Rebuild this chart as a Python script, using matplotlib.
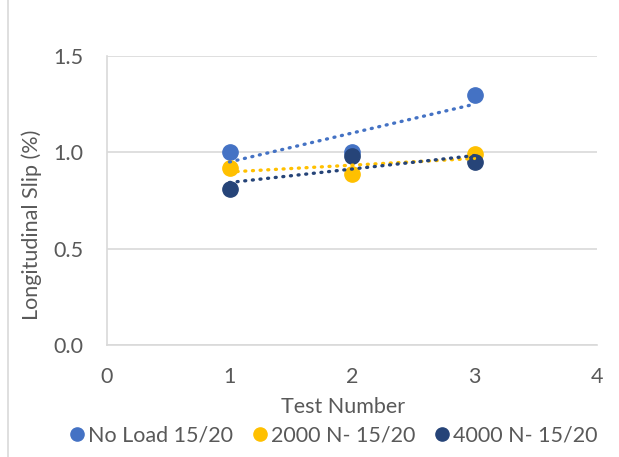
import numpy as np
import matplotlib
matplotlib.use('Agg')
import matplotlib.pyplot as plt
from matplotlib.lines import Line2D

plt.rcParams['font.family'] = ['Lato', 'DejaVu Sans']

TEXT_COLOR = '#595959'
GRID_COLOR = '#D9D9D9'
FONT_SIZE = 15.5

test_number = [1, 2, 3]
no_load = [1.00, 1.00, 1.30]
load_2000 = [0.92, 0.89, 0.99]
load_4000 = [0.81, 0.98, 0.95]

series_names = ['No Load 15/20', '2000 N- 15/20', '4000 N- 15/20']
series_colors = ['#4472C4', '#FFC000', '#264478']
x_ticks = [0, 1, 2, 3, 4]
y_ticks = [0.0, 0.5, 1.0, 1.5]

fig = plt.figure(figsize=(6.19, 4.57), dpi=100)
ax = fig.add_axes([107 / 619, 1 - 345 / 457, 490 / 619, 289 / 457])

for name, vals, color in zip(series_names, [no_load, load_2000, load_4000], series_colors):
    ax.plot(test_number, vals, 'o', color=color, markersize=11, zorder=3, label=name)
    # linear trendline
    k, b = np.polyfit(test_number, vals, 1)
    xs = np.array([test_number[0], test_number[-1]])
    ax.plot(xs, k * xs + b, color=color, linewidth=2.4,
            linestyle=(0, (0.3, 2.0)), dash_capstyle='round', zorder=4)

ax.set_xlim(0, 4)
ax.set_ylim(0, 1.5)
ax.set_xticks(x_ticks)
ax.set_yticks(y_ticks)
ax.set_yticklabels([f'{v:.1f}' for v in y_ticks])
ax.tick_params(length=0, labelsize=FONT_SIZE, colors=TEXT_COLOR)
ax.tick_params(axis='x', pad=16)
ax.tick_params(axis='y', pad=17)
ax.grid(axis='y', color=GRID_COLOR, linewidth=1.2)
ax.set_axisbelow(True)
for side in ['top', 'right']:
    ax.spines[side].set_visible(False)
for side in ['left', 'bottom']:
    ax.spines[side].set_color(GRID_COLOR)
    ax.spines[side].set_linewidth(1.2)

fig.text(32 / 619, 1 - 225 / 457, 'Longitudinal Slip (%)', rotation=90,
         ha='center', va='center', fontsize=FONT_SIZE, color=TEXT_COLOR)
fig.text(343 / 619, 1 - 407 / 457, 'Test Number', ha='center', va='center',
         fontsize=FONT_SIZE, color=TEXT_COLOR)

handles = [Line2D([], [], marker='o', linestyle='', color=c, markersize=9.5) for c in series_colors]
fig.legend(handles, series_names, loc='center', bbox_to_anchor=(332 / 619, 1 - 436 / 457),
           ncol=3, frameon=False, fontsize=FONT_SIZE, labelcolor=TEXT_COLOR,
           handletextpad=0.0, columnspacing=0.75, handlelength=1.0)

# chart border on the left
fig.add_artist(Line2D([8 / 619, 8 / 619], [0, 1], color=GRID_COLOR, linewidth=1.2))

fig.savefig('out.png', dpi=100)
